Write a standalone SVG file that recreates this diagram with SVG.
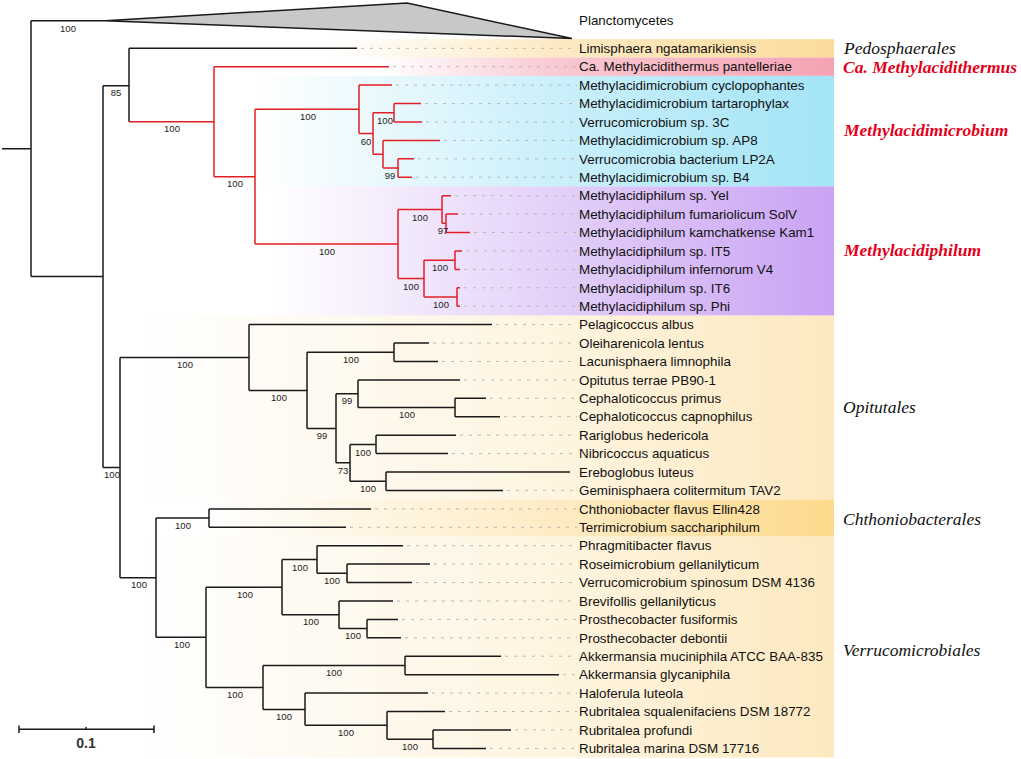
<svg xmlns="http://www.w3.org/2000/svg" width="1021" height="759" viewBox="0 0 1021 759">
<defs>
<linearGradient id="gY" gradientUnits="userSpaceOnUse" x1="330" y1="0" x2="834" y2="0"><stop offset="0" stop-color="#fbdc9c" stop-opacity="0"/><stop offset="0.45" stop-color="#fbdc9c" stop-opacity="0.6"/><stop offset="1" stop-color="#fbdc9c"/></linearGradient>
<linearGradient id="gP" gradientUnits="userSpaceOnUse" x1="380" y1="0" x2="834" y2="0"><stop offset="0" stop-color="#f5a3b3" stop-opacity="0"/><stop offset="0.4" stop-color="#f5a3b3" stop-opacity="0.6"/><stop offset="1" stop-color="#f5a3b3"/></linearGradient>
<linearGradient id="gC" gradientUnits="userSpaceOnUse" x1="255" y1="0" x2="834" y2="0"><stop offset="0" stop-color="#a3e4f7" stop-opacity="0"/><stop offset="0.55" stop-color="#a3e4f7" stop-opacity="0.6"/><stop offset="1" stop-color="#a3e4f7"/></linearGradient>
<linearGradient id="gV" gradientUnits="userSpaceOnUse" x1="270" y1="0" x2="834" y2="0"><stop offset="0" stop-color="#c9a3f3" stop-opacity="0"/><stop offset="0.55" stop-color="#c9a3f3" stop-opacity="0.55"/><stop offset="1" stop-color="#c9a3f3"/></linearGradient>
<linearGradient id="gO" gradientUnits="userSpaceOnUse" x1="140" y1="0" x2="834" y2="0"><stop offset="0" stop-color="#fde9c0" stop-opacity="0"/><stop offset="0.6" stop-color="#fde9c0" stop-opacity="0.5"/><stop offset="1" stop-color="#fde9c0"/></linearGradient>
<linearGradient id="gT" gradientUnits="userSpaceOnUse" x1="200" y1="0" x2="834" y2="0"><stop offset="0" stop-color="#fdd98c" stop-opacity="0"/><stop offset="0.6" stop-color="#fdd98c" stop-opacity="0.55"/><stop offset="1" stop-color="#fdd98c"/></linearGradient>
</defs>
<style>
.tb{fill:none;stroke:#1a1a1a;stroke-width:1.5}
.tr{fill:none;stroke:#e31e24;stroke-width:1.5}
.ld{fill:none;stroke:#b8b8b8;stroke-width:1;stroke-dasharray:3 6}
.lf{font-family:"Liberation Sans",Arial,sans-serif;font-size:13.4px;fill:#111}
.bs{font-family:"Liberation Sans",Arial,sans-serif;font-size:9.5px;fill:#222;text-anchor:middle}
.gl{font-family:"Liberation Serif","Times New Roman",serif;font-style:italic;font-size:17.5px;fill:#111}
.gr{font-family:"Liberation Serif","Times New Roman",serif;font-style:italic;font-weight:bold;font-size:17.5px;fill:#e2001a}
</style>
<rect width="1021" height="759" fill="#ffffff"/>
<g id="bands">
<rect x="140" y="315.4" width="694" height="184.2" fill="url(#gO)"/>
<rect x="140" y="536.5" width="694" height="221" fill="url(#gO)"/>
<rect x="200" y="499.6" width="634" height="36.9" fill="url(#gT)"/>
<rect x="330" y="39.1" width="504" height="18.4" fill="url(#gY)"/>
<rect x="380" y="57.5" width="454" height="18.4" fill="url(#gP)"/>
<rect x="255" y="75.9" width="579" height="110.5" fill="url(#gC)"/>
<rect x="270" y="186.4" width="564" height="129" fill="url(#gV)"/>
</g>
<g id="leaders">
<path class="ld" d="M361,48.3H577 M393,66.7H577 M396,85.1H577 M425,103.6H577 M426,122H577 M444,140.4H577 M418,158.8H577 M416,177.2H577 M455,195.7H577 M462,214.1H577 M474,232.5H577 M466,250.9H577 M464,269.4H577 M464,287.8H577 M464,306.2H577 M496,324.6H577 M433,343H577 M442,361.5H577 M464,379.9H577 M490,398.3H577 M504,416.7H577 M460,435.2H577 M452,453.6H577 M507,490.4H577 M375,508.9H577 M350,527.3H577 M407,545.7H577 M434,564.1H577 M416,582.5H577 M397,601H577 M402,619.4H577 M405,637.8H577 M505,656.2H577 M563,674.7H577 M432,693.1H577 M449,711.5H577 M515,729.9H577 M490,748.4H577"/>
</g>
<g id="connectors">
<polygon points="105,20.7 407,3 572,38.5" fill="#c8c8c8" stroke="#1a1a1a" stroke-width="1.5" stroke-linejoin="miter"/>
<path class="tb" d="M2,148.7H31 M31,20.7V276.6 M31,20.7H105 M31,276.6H103 M103,85.7V467.6 M103,85.7H129 M129,48.3V121.7 M129,48.3H357 M103,467.6H120"/>
<path class="tr" d="M129,121.7H214 M214,66.7V176.7 M214,66.7H389 M214,176.7H255 M255,109.3V244.1 M255,109.3H359 M255,244.1H398 M359,85.1V133.5 M359,85.1H392 M359,133.5H373 M373,112.8V154.2 M373,112.8H394 M394,103.6V122 M394,103.6H421 M394,122H422 M373,154.2H383 M383,140.4V168 M383,140.4H440 M383,168H398 M398,158.8V177.2 M398,158.8H414 M398,177.2H412 M398,209.5V278.6 M398,209.5H442 M442,195.7V223.3 M442,195.7H451 M442,223.3H446 M446,214.1V232.5 M446,214.1H458 M446,232.5H470 M398,278.6H424 M424,260.2V297 M424,260.2H455 M455,250.9V269.4 M455,250.9H462 M455,269.4H460 M424,297H457 M457,287.8V306.2 M457,287.8H460 M457,306.2H460"/>
<path class="tb" d="M120,357.6V577.7 M120,357.6H249 M249,324.6V390.4 M249,324.6H492 M249,390.4H307 M307,352.2V428.5 M307,352.2H394 M394,343V361.5 M394,343H429 M394,361.5H438 M307,428.5H336 M336,393.7V462.8 M336,393.7H358 M358,379.9V407.5 M358,379.9H460 M358,407.5H455 M455,398.3V416.7 M455,398.3H486 M455,416.7H500 M336,462.8H350 M350,444.4V481.2 M350,444.4H376 M376,435.2V453.6 M376,435.2H456 M376,453.6H448 M350,481.2H386 M386,472V490.4 M386,472H570 M386,490.4H503 M120,577.7H156 M156,518.1V637.2 M156,518.1H209 M209,508.9V527.3 M209,508.9H371 M209,527.3H346 M156,637.2H206 M206,587.2V687.5 M206,587.2H282 M282,559.5V614.8 M282,559.5H317 M317,545.7V573.3 M317,545.7H403 M317,573.3H347 M347,564.1V582.5 M347,564.1H430 M347,582.5H412 M282,614.8H339 M339,601V628.6 M339,601H393 M339,628.6H367 M367,619.4V637.8 M367,619.4H398 M367,637.8H401 M206,687.5H263 M263,665.5V709.6 M263,665.5H405 M405,656.2V674.7 M405,656.2H501 M405,674.7H559 M263,709.6H305 M305,693.1V725.3 M305,693.1H428 M305,725.3H387 M387,711.5V739.2 M387,711.5H445 M387,739.2H433 M433,729.9V748.4 M433,729.9H511 M433,748.4H486"/>
</g>
<g id="support">
<text class="bs" x="68" y="31.5">100</text>
<text class="bs" x="116" y="95.5">85</text>
<text class="bs" x="172" y="131.5">100</text>
<text class="bs" x="235" y="186.5">100</text>
<text class="bs" x="308" y="119.5">100</text>
<text class="bs" x="327" y="254.5">100</text>
<text class="bs" x="385" y="123.5">100</text>
<text class="bs" x="366" y="144.5">60</text>
<text class="bs" x="390" y="178.5">99</text>
<text class="bs" x="420" y="220.5">100</text>
<text class="bs" x="443" y="233.5">97</text>
<text class="bs" x="411" y="289.5">100</text>
<text class="bs" x="440" y="270.5">100</text>
<text class="bs" x="441" y="307.5">100</text>
<text class="bs" x="112" y="477.5">100</text>
<text class="bs" x="185" y="367.5">100</text>
<text class="bs" x="279" y="400.5">100</text>
<text class="bs" x="351" y="362.5">100</text>
<text class="bs" x="322" y="438.5">99</text>
<text class="bs" x="347" y="403.5">99</text>
<text class="bs" x="407" y="417.5">100</text>
<text class="bs" x="343" y="473.5">73</text>
<text class="bs" x="363" y="455.5">100</text>
<text class="bs" x="368" y="491.5">100</text>
<text class="bs" x="139" y="587.5">100</text>
<text class="bs" x="183" y="528.5">100</text>
<text class="bs" x="182" y="647.5">100</text>
<text class="bs" x="245" y="597.5">100</text>
<text class="bs" x="300" y="570.5">100</text>
<text class="bs" x="332" y="583.5">100</text>
<text class="bs" x="311" y="624.5">100</text>
<text class="bs" x="353" y="638.5">100</text>
<text class="bs" x="235" y="697.5">100</text>
<text class="bs" x="334" y="675.5">100</text>
<text class="bs" x="284" y="719.5">100</text>
<text class="bs" x="346" y="735.5">100</text>
<text class="bs" x="410" y="749.5">100</text>
</g>
<g id="leaves">
<text class="lf" x="579" y="25.4">Planctomycetes</text>
<text class="lf" x="579" y="53">Limisphaera ngatamarikiensis</text>
<text class="lf" x="579" y="71.4">Ca. Methylacidithermus pantelleriae</text>
<text class="lf" x="579" y="89.8">Methylacidimicrobium cyclopophantes</text>
<text class="lf" x="579" y="108.3">Methylacidimicrobium tartarophylax</text>
<text class="lf" x="579" y="126.7">Verrucomicrobium sp. 3C</text>
<text class="lf" x="579" y="145.1">Methylacidimicrobium sp. AP8</text>
<text class="lf" x="579" y="163.5">Verrucomicrobia bacterium LP2A</text>
<text class="lf" x="579" y="181.9">Methylacidimicrobium sp. B4</text>
<text class="lf" x="579" y="200.4">Methylacidiphilum sp. Yel</text>
<text class="lf" x="579" y="218.8">Methylacidiphilum fumariolicum SolV</text>
<text class="lf" x="579" y="237.2">Methylacidiphilum kamchatkense Kam1</text>
<text class="lf" x="579" y="255.6">Methylacidiphilum sp. IT5</text>
<text class="lf" x="579" y="274.1">Methylacidiphilum infernorum V4</text>
<text class="lf" x="579" y="292.5">Methylacidiphilum sp. IT6</text>
<text class="lf" x="579" y="310.9">Methylacidiphilum sp. Phi</text>
<text class="lf" x="579" y="329.3">Pelagicoccus albus</text>
<text class="lf" x="579" y="347.7">Oleiharenicola lentus</text>
<text class="lf" x="579" y="366.2">Lacunisphaera limnophila</text>
<text class="lf" x="579" y="384.6">Opitutus terrae PB90-1</text>
<text class="lf" x="579" y="403">Cephaloticoccus primus</text>
<text class="lf" x="579" y="421.4">Cephaloticoccus capnophilus</text>
<text class="lf" x="579" y="439.9">Rariglobus hedericola</text>
<text class="lf" x="579" y="458.3">Nibricoccus aquaticus</text>
<text class="lf" x="579" y="476.7">Ereboglobus luteus</text>
<text class="lf" x="579" y="495.1">Geminisphaera colitermitum TAV2</text>
<text class="lf" x="579" y="513.6">Chthoniobacter flavus Ellin428</text>
<text class="lf" x="579" y="532">Terrimicrobium sacchariphilum</text>
<text class="lf" x="579" y="550.4">Phragmitibacter flavus</text>
<text class="lf" x="579" y="568.8">Roseimicrobium gellanilyticum</text>
<text class="lf" x="579" y="587.2">Verrucomicrobium spinosum DSM 4136</text>
<text class="lf" x="579" y="605.7">Brevifollis gellanilyticus</text>
<text class="lf" x="579" y="624.1">Prosthecobacter fusiformis</text>
<text class="lf" x="579" y="642.5">Prosthecobacter debontii</text>
<text class="lf" x="579" y="660.9">Akkermansia muciniphila ATCC BAA-835</text>
<text class="lf" x="579" y="679.4">Akkermansia glycaniphila</text>
<text class="lf" x="579" y="697.8">Haloferula luteola</text>
<text class="lf" x="579" y="716.2">Rubritalea squalenifaciens DSM 18772</text>
<text class="lf" x="579" y="734.6">Rubritalea profundi</text>
<text class="lf" x="579" y="753.1">Rubritalea marina DSM 17716</text>
</g>
<g id="groups">
<text class="gl" x="844" y="54">Pedosphaerales</text>
<text class="gr" x="843" y="72.5">Ca. Methylacidithermus</text>
<text class="gr" x="844" y="136">Methylacidimicrobium</text>
<text class="gr" x="844" y="256">Methylacidiphilum</text>
<text class="gl" x="843" y="413">Opitutales</text>
<text class="gl" x="843" y="525">Chthoniobacterales</text>
<text class="gl" x="843" y="656">Verrucomicrobiales</text>
</g>
<g id="scale">
<path class="tb" d="M19,729.3H154 M19,725.5V733 M154,725.5V733 M86,727V729.3" stroke-width="1.3"/>
<text x="86" y="748" font-family="Liberation Sans,Arial,sans-serif" font-size="14" font-weight="bold" fill="#333" text-anchor="middle">0.1</text>
</g>
</svg>
